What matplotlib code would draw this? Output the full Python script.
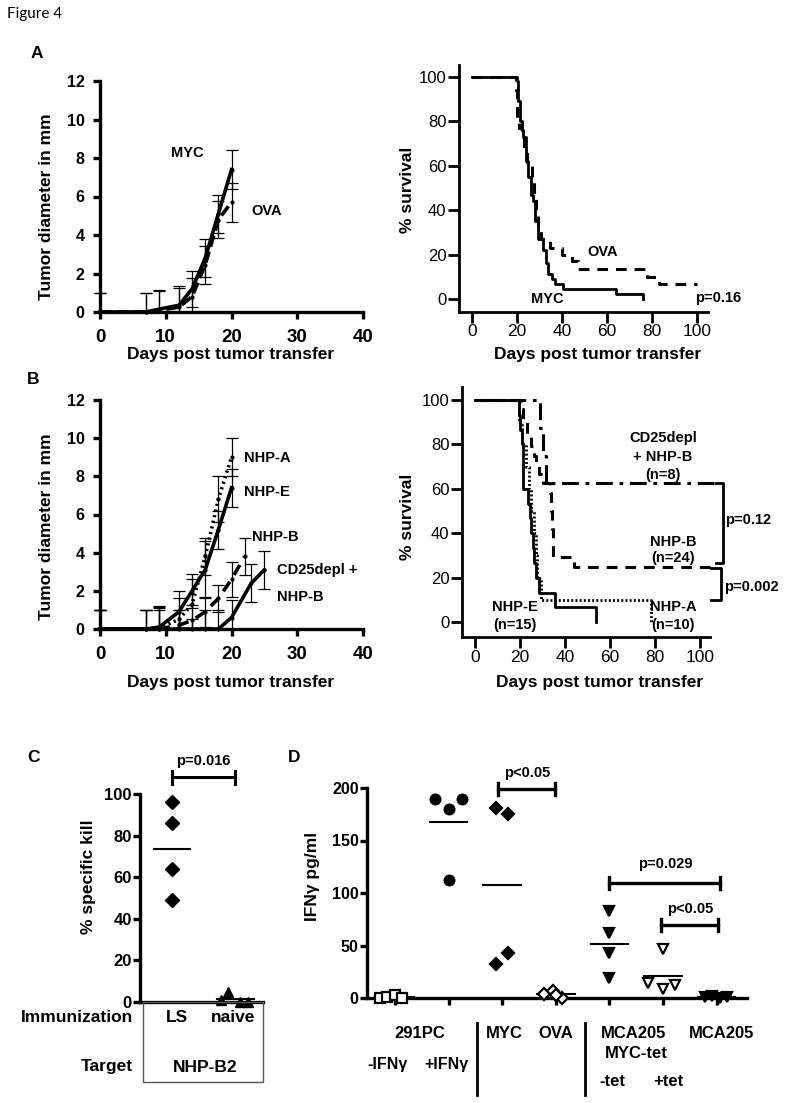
import matplotlib
matplotlib.use("Agg")
import matplotlib.pyplot as plt
from matplotlib.lines import Line2D
from matplotlib.patches import Rectangle
import numpy as np

plt.rcParams['font.family'] = ['Liberation Sans', 'DejaVu Sans']

# ================= DATA =================
# Panel A (left): tumor growth, mean and SD
a_myc_days = [0, 7, 9, 12, 14, 16, 18, 20]
a_myc_mean = [0, 0, 0.15, 0.35, 1.2, 2.8, 5.1, 7.4]
a_myc_sd = [1.0, 1.0, 1.0, 1.0, 0.95, 1.0, 1.0, 1.0]
a_ova_days = [0, 7, 9, 12, 14, 16, 18, 20]
a_ova_mean = [0, 0, 0.1, 0.25, 0.8, 2.45, 4.8, 5.7]
a_ova_sd = [1.0, 1.0, 1.0, 1.0, 0.95, 0.97, 0.98, 1.0]

# Panel A (right): survival
a_myc_surv_days = [0, 20, 20.6, 21.3, 22, 22.8, 24, 25, 26.1, 27.3, 28.1, 29.5,
                   31.7, 32.9, 33.9, 35.4, 36.9, 40.6, 64, 76]
a_myc_surv = [100, 98, 89, 80, 76, 73, 62, 55, 47, 44, 35, 27,
              22, 16, 11, 9, 6.5, 4.5, 2.2, 0]
a_ova_surv_days = [0, 19.4, 19.9, 21, 22.1, 23, 24.3, 26.5, 27.6, 28.5, 29.3,
                   30.5, 34.7, 40, 44.3, 47.2, 77.6, 83.2, 100]
a_ova_surv = [100, 94, 80, 77, 73, 67, 60, 53, 47, 40, 33,
              27, 23, 20, 17, 13.5, 10, 6.7, 6.7]

# Panel B (left): tumor growth
b_nhpa_days = [0, 7, 9, 12, 14, 16, 18, 20]
b_nhpa_mean = [0, 0, 0.05, 0.5, 1.3, 3.8, 6.8, 9.0]
b_nhpa_sd = [1.0, 1.0, 1.1, 1.1, 1.3, 0.95, 1.2, 1.0]
b_nhpe_days = [0, 7, 9, 12, 14, 16, 18, 20]
b_nhpe_mean = [0, 0, 0.1, 0.9, 2.0, 3.1, 5.2, 7.4]
b_nhpe_sd = [1.0, 1.0, 1.0, 1.1, 0.9, 1.5, 1.0, 1.0]
b_nhpb_days = [0, 7, 9, 12, 14, 16, 18, 20, 22]
b_nhpb_mean = [0, 0, 0, 0.2, 0.45, 0.9, 1.6, 2.6, 3.8]
b_nhpb_sd = [1.0, 1.0, 1.0, 0.8, 0.8, 0.8, 0.7, 0.9, 0.95]
b_cd25_days = [0, 9, 12, 14, 16, 18, 20, 23, 25]
b_cd25_mean = [0, 0, 0, 0, 0, 0, 0.6, 2.4, 3.1]
b_cd25_sd = [1.0, 1.2, 1.0, 0.5, 1.0, 1.0, 0.9, 1.0, 1.0]

# Panel B (right): survival
b_nhpe_surv_days = [0, 19.5, 20, 20.7, 21.2, 23.5, 24.4, 25, 25.6, 26.4, 27.2, 28.5, 35.6, 53.8]
b_nhpe_surv = [100, 93.3, 86.7, 80, 60, 53.3, 46.7, 40, 33.3, 26.7, 20, 13.3, 6.7, 0]
b_nhpa_surv_days = [0, 19.5, 21, 22.7, 24, 25, 26, 27, 27.6, 29.4, 78]
b_nhpa_surv = [100, 90, 80, 70, 60, 50, 40, 30, 20, 10, 0]
b_nhpb_surv_days = [0, 20.5, 21.5, 23, 25, 26, 27, 28.5, 30, 33.5, 33.8, 34.1,
                    34.5, 34.8, 44, 108]
b_nhpb_surv = [100, 95.8, 91.7, 83.3, 79.2, 75, 70.8, 66.7, 62.5, 58.3, 50, 41.7,
               37.5, 29.2, 25, 25]
b_cd25_surv_days = [0, 29, 30, 31.5, 108]
b_cd25_surv = [100, 87.5, 75, 62.5, 62.5]

# Panel C: % specific kill
c_groups = ['LS', 'naive']
c_ls = [96, 86, 64, 49]
c_naive = [5, 1, 0, 0]

# Panel D: IFNg pg/ml
d_neg_ifn = [0, 1, 3, 0]
d_pos_ifn = [190, 180, 190, 112]
d_myc = [181, 175, 32, 43]
d_ova = [4, 7, 0, 3]
d_minus_tet = [83, 62, 43, 19]
d_plus_tet = [47, 14, 9, 12]
d_mca205 = [1, 2, 0, 1]

# ================= LAYOUT =================
W, H = 786, 1103
fig = plt.figure(figsize=(W / 100, H / 100), dpi=100)


def axes_px(x0, x1, y0, y1):
    return fig.add_axes([x0 / W, 1 - y1 / H, (x1 - x0) / W, (y1 - y0) / H])


def style(ax, lw=2.2, tl=4, pad=3):
    for s in ('top', 'right'):
        ax.spines[s].set_visible(False)
    for s in ('left', 'bottom'):
        ax.spines[s].set_linewidth(lw)
        ax.spines[s].set_capstyle('projecting')
    ax.tick_params(direction='out', width=lw, length=tl, pad=pad, colors='k')
    ax.patch.set_visible(False)


def ticklabels(ax, xs, ys, weight='bold', family=None):
    for lbl in ax.get_xticklabels():
        lbl.set_fontsize(xs); lbl.set_fontweight(weight)
        if family: lbl.set_family(family)
    for lbl in ax.get_yticklabels():
        lbl.set_fontsize(ys); lbl.set_fontweight(weight)
        if family: lbl.set_family(family)


def ftext(x, y, s, size=12, weight='bold', ha='center', va='center', rot=0, **kw):
    fig.text(x / W, 1 - y / H, s, fontsize=size, fontweight=weight, ha=ha,
             va=va, rotation=rot, **kw)


def fline(xs, ys, lw=2.0, color='k'):
    fig.add_artist(Line2D([x / W for x in xs], [1 - y / H for y in ys],
                          lw=lw, color=color, transform=fig.transFigure))


def growth(ax, days, mean, sd, ls):
    d = np.array(days, float); m = np.array(mean, float); s = np.array(sd, float)
    lower = np.minimum(s, m)
    ax.errorbar(d, m, yerr=[lower, s], fmt='none', ecolor='k', elinewidth=0.9,
                capsize=4.5, capthick=0.9, clip_on=False, zorder=3)
    ax.plot(d, m, color='k', lw=2.6, linestyle=ls, marker='o', ms=2.0,
            clip_on=False, zorder=4, dash_capstyle='butt')


def growth_axes(top, bottom):
    ax = axes_px(100, 363, top, bottom)
    ax.set_xlim(0, 40); ax.set_ylim(0, 12)
    ax.set_xticks([0, 10, 20, 30, 40]); ax.set_yticks(range(0, 13, 2))
    style(ax, lw=2.4, tl=5)
    ax.tick_params(axis='x', pad=7)
    ax.tick_params(axis='y', pad=6)
    ticklabels(ax, 13.5, 11.5)
    return ax


def surv_axes(x0, x1, top, bottom, xlim, ylim):
    ax = axes_px(x0, x1, top, bottom)
    ax.set_xlim(*xlim); ax.set_ylim(*ylim)
    ax.set_xticks(range(0, 101, 20)); ax.set_yticks(range(0, 101, 20))
    style(ax, lw=2.0, tl=8, pad=1)
    ticklabels(ax, 12.5, 12, weight='normal')
    return ax


# ---------- Figure title & panel letters ----------
ftext(7, 14, 'Figure 4', size=11, weight='normal', ha='left', family='Lato')
ftext(37, 54, 'A', size=12.5)
ftext(33, 380, 'B', size=12.5)
ftext(33, 757, 'C', size=12.5)
ftext(294, 757, 'D', size=12.5)

# ---------- Panel A left ----------
ax = growth_axes(81, 312)
growth(ax, a_ova_days, a_ova_mean, a_ova_sd, (0, (3.2, 1.4)))
growth(ax, a_myc_days, a_myc_mean, a_myc_sd, '-')
ftext(187, 153, 'MYC', size=10.5)
ftext(267, 211, 'OVA', size=10.5)
ftext(47, 207, 'Tumor diameter in mm', size=12.5, rot=90)
ftext(231, 355, 'Days post tumor transfer', size=12.5)

# ---------- Panel A right ----------
ax = surv_axes(459, 708, 65, 312, (-5.8, 104.9), (-5.9, 105.4))
ax.step(a_ova_surv_days, a_ova_surv, where='post', color='k', lw=2.2,
        linestyle=(0, (3.5, 2.6)), clip_on=False)
ax.step(a_myc_surv_days, a_myc_surv, where='post', color='k', lw=2.0, clip_on=False)
ftext(603, 252, 'OVA', size=10.5)
ftext(547, 299, 'MYC', size=10.5)
ftext(718, 298, 'p=0.16', size=10.5)
ftext(408, 190, '% survival', size=12.5, rot=90)
ftext(598, 355, 'Days post tumor transfer', size=12.5)

# ---------- Panel B left ----------
ax = growth_axes(400, 629)
growth(ax, b_cd25_days, b_cd25_mean, b_cd25_sd, '-')
growth(ax, b_nhpb_days, b_nhpb_mean, b_nhpb_sd, (0, (3.2, 2.2)))
growth(ax, b_nhpa_days, b_nhpa_mean, b_nhpa_sd, (0, (0.6, 1.0)))
growth(ax, b_nhpe_days, b_nhpe_mean, b_nhpe_sd, '-')
ftext(244, 458, 'NHP-A', size=10.5, ha='left')
ftext(244, 492, 'NHP-E', size=10.5, ha='left')
ftext(252, 537, 'NHP-B', size=10.5, ha='left')
ftext(277, 570, 'CD25depl +', size=10.5, ha='left')
ftext(277, 597, 'NHP-B', size=10.5, ha='left')
ftext(47, 527, 'Tumor diameter in mm', size=12.5, rot=90)
ftext(231, 683, 'Days post tumor transfer', size=12.5)

# ---------- Panel B right ----------
ax = surv_axes(462, 710, 387, 637, (-5.8, 104.4), (-6.75, 105.9))
ax.step(b_cd25_surv_days, b_cd25_surv, where='post', color='k', lw=2.2,
        linestyle=(0, (5.5, 2.2, 1.2, 2.2)), clip_on=False)
ax.step(b_nhpb_surv_days, b_nhpb_surv, where='post', color='k', lw=2.2,
        linestyle=(0, (3.5, 2.6)), clip_on=False)
ax.step(b_nhpa_surv_days, b_nhpa_surv, where='post', color='k', lw=2.0,
        linestyle=(0, (0.7, 0.8)), clip_on=False)
ax.step(b_nhpe_surv_days, b_nhpe_surv, where='post', color='k', lw=2.0, clip_on=False)
# significance brackets
ax.plot([107, 110.2, 110.2, 107], [62.5, 62.5, 26.5, 26.5], color='k', lw=2.0, clip_on=False)
ax.plot([105, 109.5, 109.5, 105], [24.5, 24.5, 9.8, 9.8], color='k', lw=2.0, clip_on=False)
ftext(663, 438, 'CD25depl', size=10.5)
ftext(663, 457, '+ NHP-B', size=10.5)
ftext(663, 475, '(n=8)', size=10.5)
ftext(673, 542, 'NHP-B', size=10.5)
ftext(673, 558, '(n=24)', size=10.5)
ftext(515, 607, 'NHP-E', size=10.5)
ftext(515, 625, '(n=15)', size=10.5)
ftext(673, 607, 'NHP-A', size=10.5)
ftext(673, 625, '(n=10)', size=10.5)
ftext(725, 520, 'p=0.12', size=10.5, ha='left')
ftext(724, 587, 'p=0.002', size=10.5, ha='left')
ftext(408, 517, '% survival', size=12.5, rot=90)
ftext(600, 682, 'Days post tumor transfer', size=12.5)

# ---------- Panel C ----------
ax = axes_px(140, 263, 794, 1002)
ax.set_xlim(0.49, 2.44); ax.set_ylim(0, 100)
ax.set_yticks(range(0, 101, 20)); ax.set_xticks([])
style(ax, lw=2.4, tl=5, pad=1)
ticklabels(ax, 12, 12)
c_jit = {'LS': [0, 0, 0, 0], 'naive': [-0.11, -0.22, 0.08, 0.2]}
for i, (g, vals, mk) in enumerate([('LS', c_ls, 'D'), ('naive', c_naive, '^')]):
    xpos = i + 1 + np.array(c_jit[g])
    ax.plot(xpos, vals, linestyle='none', marker=mk, ms=7.5 if mk == 'D' else 7,
            color='k', clip_on=False, zorder=5)
    ax.plot([i + 1 - 0.29, i + 1 + 0.29], [np.mean(vals)] * 2, color='k', lw=1.5,
            clip_on=False)
ax.plot([1, 2], [108, 108], color='k', lw=2.2, clip_on=False)
ax.plot([1, 1], [105, 111], color='k', lw=2.2, clip_on=False)
ax.plot([2, 2], [105, 111], color='k', lw=2.2, clip_on=False)
ax.text(1.5, 112.5, 'p=0.016', ha='center', va='bottom', fontsize=10.5, fontweight='bold')
ftext(88, 877, '% specific kill', size=12.5, rot=90)
fig.add_artist(Rectangle((143 / W, 1 - 1082 / H), 120 / W, 80 / H, fill=False,
                         ec='#555555', lw=1.0, transform=fig.transFigure))
ftext(133, 1017, 'Immunization', size=12.5, ha='right')
ftext(133, 1067, 'Target', size=12.5, ha='right')
ftext(177, 1017, c_groups[0], size=12.5)
ftext(233, 1017, c_groups[1], size=12.5)
ftext(205, 1067, 'NHP-B2', size=12.5)

# ---------- Panel D ----------
ax = axes_px(367, 747, 788, 998)
ax.set_xlim(0.478, 7.567); ax.set_ylim(0, 200)
ax.set_yticks(range(0, 201, 50)); ax.set_xticks(range(1, 8))
ax.set_xticklabels([])
style(ax, lw=2.4, tl=5, pad=1)
ticklabels(ax, 11, 11.5)
d_sets = [
    (d_neg_ifn, 's', 'w', [-0.28, -0.14, 0.0, 0.13]),
    (d_pos_ifn, 'o', 'k', [-0.25, 0.0, 0.25, 0.0]),
    (d_myc, 'D', 'k', [-0.11, 0.11, -0.11, 0.11]),
    (d_ova, 'D', 'w', [-0.22, -0.05, 0.12, 0.0]),
    (d_minus_tet, 'v', 'k', [0, 0, 0, 0]),
    (d_plus_tet, 'v', 'w', [0.0, -0.28, 0.0, 0.22]),
    (d_mca205, 'v', 'k', [-0.22, -0.08, 0.06, 0.2]),
]
for i, (vals, mk, fc, jit) in enumerate(d_sets):
    xpos = i + 1 + np.array(jit)
    ms = {'s': 7, 'o': 7, 'D': 6, 'v': 7.5}[mk]
    ax.plot(xpos, vals, linestyle='none', marker=mk, ms=ms, mfc=fc, mec='k',
            mew=1.6, clip_on=False, zorder=5)
    ax.plot([i + 1 - 0.35, i + 1 + 0.35], [np.mean(vals)] * 2, color='k', lw=1.5,
            clip_on=False, zorder=4)


def bracket(ax, x0, x1, y, h, txt, ty):
    ax.plot([x0, x1], [y, y], color='k', lw=2.4, clip_on=False)
    ax.plot([x0, x0], [y - h, y + h], color='k', lw=2.4, clip_on=False)
    ax.plot([x1, x1], [y - h, y + h], color='k', lw=2.4, clip_on=False)
    ax.text((x0 + x1) / 2, ty, txt, ha='center', va='center', fontsize=10.5,
            fontweight='bold')


bracket(ax, 2.93, 3.99, 199, 6, 'p<0.05', 214)
bracket(ax, 5.0, 7.07, 109.5, 6, 'p=0.029', 127.6)
bracket(ax, 5.97, 7.03, 69.5, 6, 'p<0.05', 84.8)
ftext(312, 876, 'IFNγ pg/ml', size=12.5, rot=90)

ftext(420, 1034, '291PC', size=12)
ftext(388, 1065, '-IFNγ', size=11.5)
ftext(446, 1065, '+IFNγ', size=11.5)
ftext(504, 1034, 'MYC', size=12)
ftext(556, 1034, 'OVA', size=12)
ftext(634, 1034, 'MCA205', size=12)
ftext(722, 1034, 'MCA205', size=12)
ftext(636, 1053, 'MYC-tet', size=12)
ftext(612, 1082, '-tet', size=12)
ftext(668, 1082, '+tet', size=12)
fline([477, 477], [1023, 1095], lw=2.0)
fline([585, 585], [1023, 1095], lw=2.0)

fig.savefig('out.png', dpi=100)
